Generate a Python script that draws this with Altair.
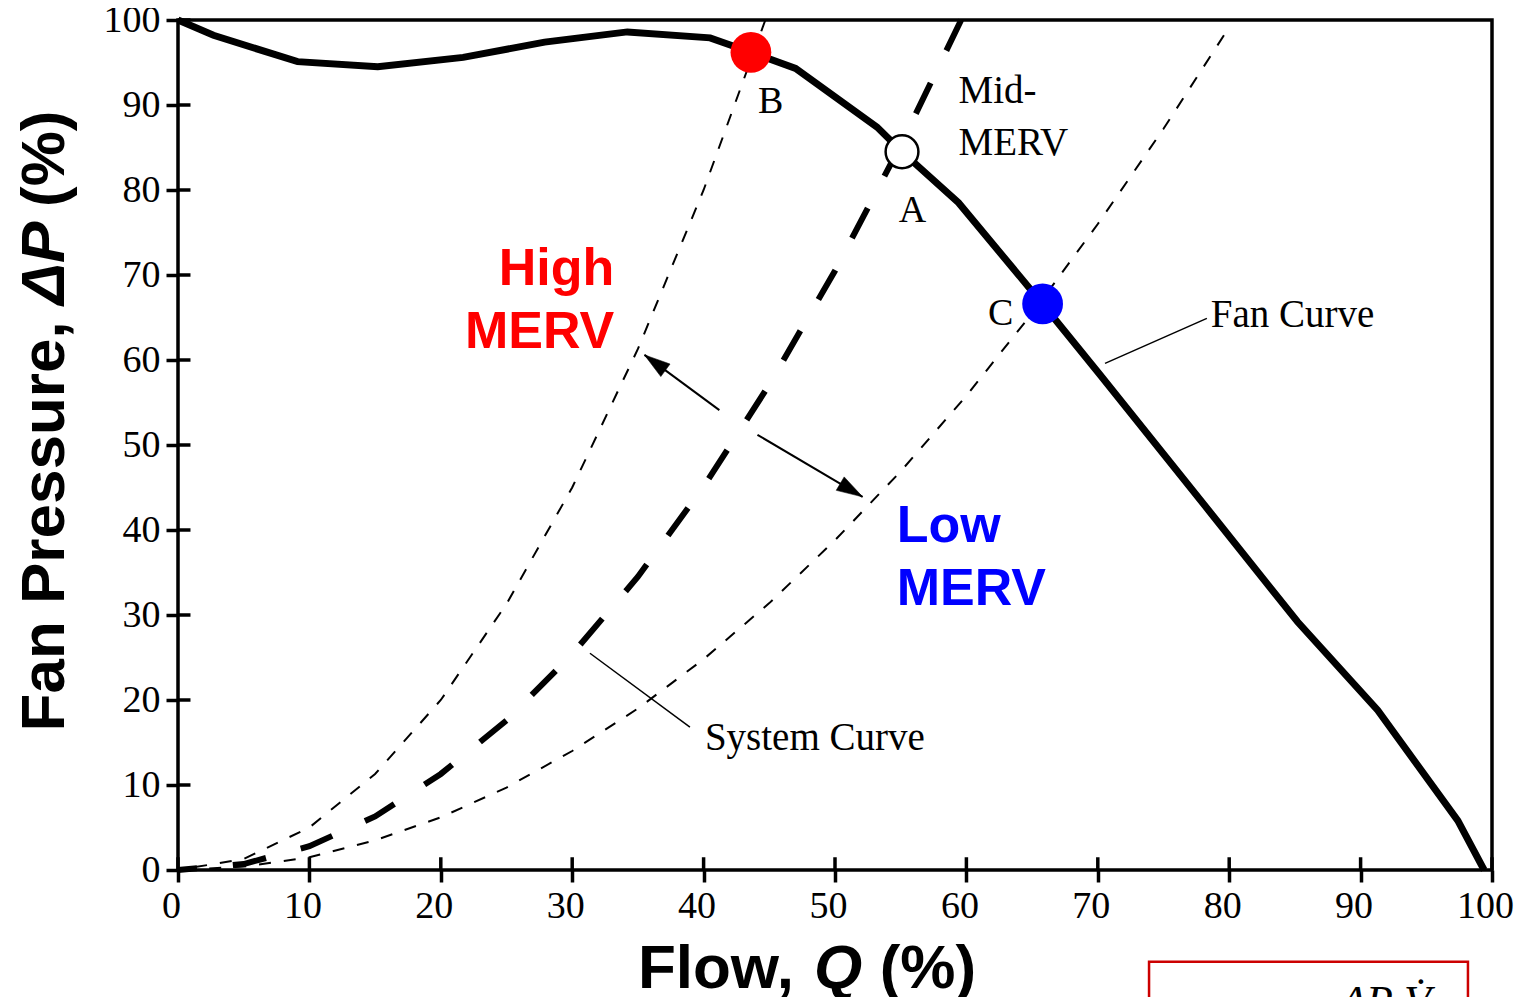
import altair as alt
import pandas as pd

# ---- data ----
ticks = [0, 10, 20, 30, 40, 50, 60, 70, 80, 90, 100]

fan_q = [0, 2.7, 9.1, 15.2, 21.7, 27.9, 34.2, 40.5, 43.6, 47.0, 53.2, 55.1, 59.4, 65.8, 70.2, 78.7, 85.2, 91.3, 97.4, 99.4]
fan_p = [100, 98.2, 95.1, 94.5, 95.6, 97.4, 98.6, 97.9, 96.2, 94.3, 87.4, 84.5, 78.5, 66.6, 58.2, 41.8, 29.2, 18.8, 5.8, 0]

high_q = [0, 5, 10, 15, 20, 25, 30, 35, 40, 44.7]
high_p = [0, 1.3, 5.0, 11.3, 20.0, 31.3, 45.0, 61.3, 80.0, 100]

mid_q = [0, 5, 10, 15, 20, 25, 30, 35, 40, 45, 50, 55, 59.6]
mid_p = [0, 0.7, 2.8, 6.3, 11.3, 17.6, 25.4, 34.5, 45.1, 57.1, 70.5, 85.3, 100]

low_q = [0, 5, 10, 15, 20, 25, 30, 35, 40, 45, 50, 55, 60, 65, 70, 75, 79.6]
low_p = [0, 0.4, 1.5, 3.5, 6.2, 9.7, 14.0, 19.0, 24.8, 31.4, 38.8, 46.9, 55.8, 65.5, 76.0, 87.2, 98.2]

# operating points B (high MERV), A (mid MERV), C (low MERV)
pt_q = [43.6, 55.1, 65.8]
pt_p = [96.2, 84.5, 66.6]

# point labels
lab_text = ["B", "A", "C"]
lab_q = [45.1, 55.9, 62.6]
lab_p = [89.1, 76.2, 64.1]

# left-aligned serif annotations
note_text = ["Mid-", "MERV", "Fan Curve", "System Curve"]
note_q = [59.4, 59.4, 78.6, 40.1]
note_p = [90.2, 84.1, 63.9, 14.1]

high_text = ["High", "MERV"]
high_lq = [33.2, 33.2]
high_lp = [68.8, 61.4]

low_text = ["Low", "MERV"]
low_lq = [54.7, 54.7]
low_lp = [38.6, 31.2]

# leader lines and double arrow (start -> end, data units)
lead_q = [70.55, 31.35]
lead_p = [59.6, 25.5]
lead_q2 = [78.3, 38.96]
lead_p2 = [64.9, 16.8]

arr_q = [41.2, 44.1]
arr_p = [54.1, 51.2]
arr_q2 = [35.5, 52.1]
arr_p2 = [60.6, 43.9]
arr_ang = [306.3, 120.6]

# axis title pieces (Q and ΔP in italics)
xt_text = ["Flow,", "Q", "(%)"]
xt_q = [35.0, 48.4, 53.4]
xt_p = [-13.9, -13.9, -13.9]
yt_text = ["Fan Pressure,", "\u0394P", "(%)"]
yt_q = [-8.7, -8.7, -8.7]
yt_p = [16.3, 66.5, 78.0]

# formula box below the chart
box_q, box_q2, box_p, box_p2 = [73.9], [98.17], [-10.8], [-20.0]
form_text = ["\u0394P\u00b7V\u0307"]
form_q = [91.9]
form_p = [-17.2]

# ---- chart ----
SERIF = "Liberation Serif"
SANS = "Liberation Sans"

xs = alt.Scale(domain=[0, 100], nice=False, zero=False)
ys = alt.Scale(domain=[0, 100], nice=False, zero=False)
ax_x = alt.Axis(values=ticks, title="", domain=False, grid=False, tickSize=12, tickWidth=3.5,
                tickColor="black", labelFont=SERIF, labelFontSize=38, labelColor="black",
                labelPadding=5, labelOffset=-7, labelFlush=False, labelOverlap=False)
ax_y = alt.Axis(values=ticks, title="", domain=False, grid=False, tickSize=12, tickWidth=3.5,
                tickColor="black", labelFont=SERIF, labelFontSize=38, labelColor="black",
                labelPadding=6, labelFlush=False, labelOverlap=False)
X = alt.X("q:Q", scale=xs, axis=ax_x)
Y = alt.Y("p:Q", scale=ys, axis=ax_y)


def curve(qs, ps):
    return pd.DataFrame({"q": qs, "p": ps, "o": list(range(len(qs)))})


high = alt.Chart(curve(high_q, high_p)).mark_line(color="black", strokeWidth=2, strokeDash=[12, 13]).encode(
    x=X, y=Y, order=alt.Order("o:Q", sort="descending"))
mid = alt.Chart(curve(mid_q, mid_p)).mark_line(color="black", strokeWidth=6, strokeDash=[34, 36]).encode(
    x=X, y=Y, order=alt.Order("o:Q", sort="descending"))
low = alt.Chart(curve(low_q, low_p)).mark_line(color="black", strokeWidth=2, strokeDash=[12, 13]).encode(
    x=X, y=Y, order=alt.Order("o:Q", sort="descending"))
fan = alt.Chart(curve(fan_q, fan_p)).mark_line(color="black", strokeWidth=7).encode(
    x=X, y=Y, order="o:Q")

xtick_df = pd.DataFrame({"q": ticks, "p": [0] * len(ticks), "p2": [1.5] * len(ticks)})
ytick_df = pd.DataFrame({"p": ticks, "q": [0] * len(ticks), "q2": [0.95] * len(ticks)})
xin = alt.Chart(xtick_df).mark_rule(color="black", strokeWidth=3.5).encode(x=X, y=Y, y2="p2:Q")
yin = alt.Chart(ytick_df).mark_rule(color="black", strokeWidth=3.5).encode(x=X, x2="q2:Q", y=Y)

lead = alt.Chart(pd.DataFrame({"q": lead_q, "p": lead_p, "q2": lead_q2, "p2": lead_p2})).mark_rule(
    color="black", strokeWidth=1.5).encode(x=X, y=Y, x2="q2:Q", y2="p2:Q")
arr = alt.Chart(pd.DataFrame({"q": arr_q, "p": arr_p, "q2": arr_q2, "p2": arr_p2})).mark_rule(
    color="black", strokeWidth=2).encode(x=X, y=Y, x2="q2:Q", y2="p2:Q")
head_shape = "M0,0L0.6,2L-0.6,2Z"
heads = []
for i in range(2):
    heads.append(alt.Chart(pd.DataFrame({"q": [arr_q2[i]], "p": [arr_p2[i]]})).mark_point(
        shape=head_shape, size=676, filled=True, fill="black", stroke="black", strokeWidth=0.5,
        opacity=1, angle=arr_ang[i]).encode(x=X, y=Y))

ptB = alt.Chart(pd.DataFrame({"q": [pt_q[0]], "p": [pt_p[0]]})).mark_point(
    shape="circle", size=1662, filled=True, fill="#FF0000", opacity=1, strokeWidth=0).encode(x=X, y=Y)
ptA = alt.Chart(pd.DataFrame({"q": [pt_q[1]], "p": [pt_p[1]]})).mark_point(
    shape="circle", size=1075, filled=True, fill="white", stroke="black", strokeWidth=2.5, opacity=1).encode(x=X, y=Y)
ptC = alt.Chart(pd.DataFrame({"q": [pt_q[2]], "p": [pt_p[2]]})).mark_point(
    shape="circle", size=1662, filled=True, fill="#0000FF", opacity=1, strokeWidth=0).encode(x=X, y=Y)

labs = alt.Chart(pd.DataFrame({"q": lab_q, "p": lab_p, "t": lab_text})).mark_text(
    font=SERIF, fontSize=38, color="black", align="center", baseline="alphabetic").encode(x=X, y=Y, text="t:N")
notes = alt.Chart(pd.DataFrame({"q": note_q, "p": note_p, "t": note_text})).mark_text(
    font=SERIF, fontSize=39, color="black", align="left", baseline="alphabetic").encode(x=X, y=Y, text="t:N")
hl = alt.Chart(pd.DataFrame({"q": high_lq, "p": high_lp, "t": high_text})).mark_text(
    font=SANS, fontSize=52, fontWeight="bold", color="#FF0000", align="right", baseline="alphabetic").encode(
    x=X, y=Y, text="t:N")
ll = alt.Chart(pd.DataFrame({"q": low_lq, "p": low_lp, "t": low_text})).mark_text(
    font=SANS, fontSize=52, fontWeight="bold", color="#0000FF", align="left", baseline="alphabetic").encode(
    x=X, y=Y, text="t:N")

xt = []
for i in range(3):
    xt.append(alt.Chart(pd.DataFrame({"q": [xt_q[i]], "p": [xt_p[i]], "t": [xt_text[i]]})).mark_text(
        font=SANS, fontSize=62, fontWeight="bold", fontStyle="italic" if i == 1 else "normal",
        color="black", align="left", baseline="alphabetic").encode(x=X, y=Y, text="t:N"))
yt = []
for i in range(3):
    yt.append(alt.Chart(pd.DataFrame({"q": [yt_q[i]], "p": [yt_p[i]], "t": [yt_text[i]]})).mark_text(
        font=SANS, fontSize=62, fontWeight="bold", fontStyle="italic" if i == 1 else "normal",
        color="black", align="left", baseline="alphabetic", angle=270).encode(x=X, y=Y, text="t:N"))

box = alt.Chart(pd.DataFrame({"q": box_q, "q2": box_q2, "p": box_p, "p2": box_p2})).mark_rect(
    filled=False, stroke="#CC0000", strokeWidth=2.5).encode(x=X, x2="q2:Q", y=Y, y2="p2:Q")
form = alt.Chart(pd.DataFrame({"q": form_q, "p": form_p, "t": form_text})).mark_text(
    font=SERIF, fontSize=44, fontStyle="italic", color="black", align="center", baseline="alphabetic").encode(
    x=X, y=Y, text="t:N")

chart = alt.layer(
    high, mid, low, xin, yin, lead, arr, *heads, fan, ptB, ptA, ptC,
    labs, notes, hl, ll, *xt, *yt, box, form
).properties(
    width=1314, height=850,
    autosize=alt.AutoSizeParams(type="none"),
    padding={"left": 170, "top": 12, "right": 24, "bottom": 127},
    background="white",
).configure_view(stroke="black", strokeWidth=3.5)

chart.save("out.html", embed_options={"renderer": "svg", "actions": False})
